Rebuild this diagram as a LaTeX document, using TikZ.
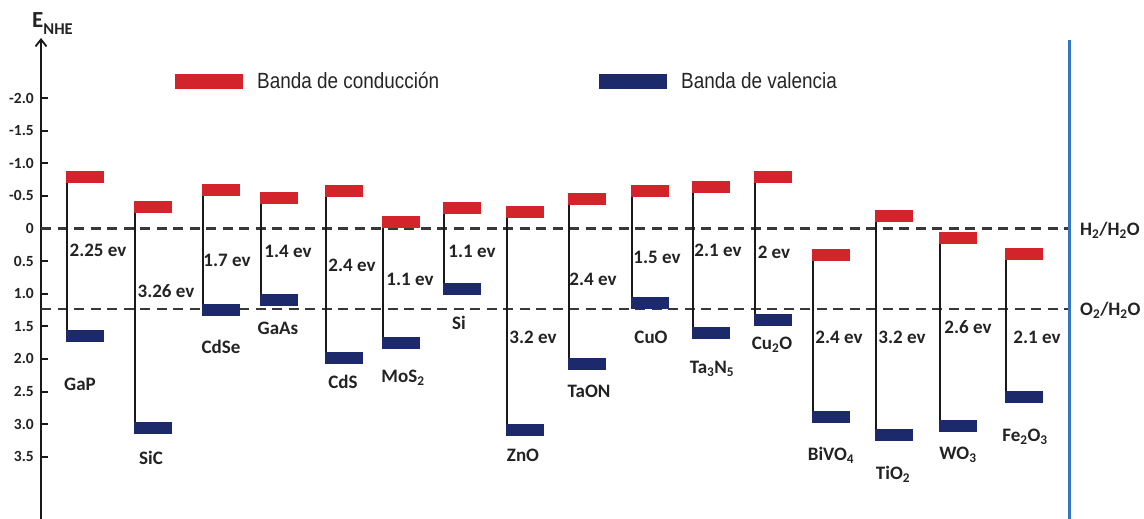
\documentclass[tikz,border=0pt]{standalone}
\usepackage{fontspec}
\setmainfont{Carlito}
\newfontfamily\legfont[FakeStretch=0.86]{Liberation Sans}
\usetikzlibrary{arrows.meta}
\definecolor{cbred}{RGB}{211,36,43}
\definecolor{vbblue}{RGB}{28,42,107}
\definecolor{lineblue}{RGB}{52,119,192}
\definecolor{txt}{RGB}{35,35,35}
\tikzset{
  cb/.style={fill=cbred, draw=none, minimum width=38pt, minimum height=12pt, inner sep=0pt, outer sep=0pt},
  vb/.style={fill=vbblue, draw=none, minimum width=38pt, minimum height=12pt, inner sep=0pt, outer sep=0pt},
  gapline/.style={line width=2pt, black!90},
  lab/.style={font=\fontsize{19}{19}\selectfont\bfseries, text=txt, inner sep=0pt},
  ticklab/.style={font=\fontsize{15.5}{15.5}\selectfont\bfseries, text=txt, anchor=east, inner sep=0pt},
  refline/.style={dash pattern=on 10pt off 6.5pt, line width=2.3pt, black!78},
  leg/.style={font=\legfont\fontsize{22}{22}\selectfont, text=black!85, anchor=west, inner sep=0pt},
  legbar/.style={draw=none, minimum width=68pt, minimum height=15pt, inner sep=0pt},
}
\newcommand\bandpair[8]{%
  \node[cb] (#1c) at (#2+19,#3+6) {};
  \node[vb] (#1v) at (#2+19,#4+6) {};
  \draw[gapline] ([xshift=1pt]#1c.south west) -- ([xshift=1pt]#1v.north west);
  \node[lab] (#1g) at (#6) {#5};
  \node[lab] (#1n) at (#8) {#7};
}
\begin{document}
\begin{tikzpicture}[x=1pt,y=-1pt]
\useasboundingbox (0,0) rectangle (1144,519);
\fill[white] (0,0) rectangle (1144,519);

% axis
\coordinate (axb) at (41,519);
\coordinate (axt) at (41,38);
\draw[line width=2pt, black!90, -{Straight Barb[length=7pt,width=11pt,line width=1.8pt]}] (axb) -- (axt);
\node[anchor=base west, inner sep=0pt, text=txt, font=\bfseries] (enhe) at (32,28)
  {{\fontsize{23}{23}\selectfont E}{\fontsize{16.5}{16.5}\selectfont\raisebox{-6.5pt}{NHE}}};

% ticks
\foreach \v/\t [count=\i] in {-2.0/-2.0,-1.5/-1.5,-1.0/-1.0,-0.5/-0.5,0/0,0.5/0.5,1.0/1.0,1.5/1.5,2.0/2.0,2.5/2.5,3.0/3.0,3.5/3.5}{
  \draw[line width=2pt, black!90] (41,228.5+\v*65.2) -- (48,228.5+\v*65.2);
  \node[ticklab] (tick\i) at (34,228.5+\v*65.2) {\t};
}

% blue right line
\coordinate (blt) at (1069,40);
\coordinate (blb) at (1069,519);
\draw[line width=3pt, lineblue] (blt) -- (blb);

% reference lines
\coordinate (h2l) at (41,228.5);
\coordinate (h2r) at (1068,228.5);
\coordinate (o2l) at (41,309);
\coordinate (o2r) at (1068,309);
\draw[refline] (h2l) -- (h2r);
\draw[refline] (o2l) -- (o2r);
\node[lab, anchor=west] (h2lab) at (1080,230) {H\textsubscript{2}/H\textsubscript{2}O};
\node[lab, anchor=west] (o2lab) at (1080,310) {O\textsubscript{2}/H\textsubscript{2}O};

% legend
\node[legbar, fill=cbred] (legr) at (209,81.5) {};
\node[leg] (legrt) at (257,81) {Banda de conducción};
\node[legbar, fill=vbblue] (legb) at (633,81.5) {};
\node[leg] (legbt) at (681,81) {Banda de valencia};

% band pairs
\bandpair{gap}{66}{171}{330}{2.25 ev}{98,250}{GaP}{80,384}
\bandpair{sic}{134}{201}{422}{3.26 ev}{166,291}{SiC}{151,458}
\bandpair{cdse}{202}{184}{304}{1.7 ev}{227,260}{CdSe}{221,347}
\bandpair{gaas}{260}{192}{294}{1.4 ev}{288,251}{GaAs}{278,328}
\bandpair{cds}{325}{185}{352}{2.4 ev}{352,265}{CdS}{343,382}
\bandpair{mos}{382}{216}{337}{1.1 ev}{410,279}{MoS\textsubscript{2}}{403,378}
\bandpair{si}{443}{202}{283}{1.1 ev}{472,251}{Si}{459,323}
\bandpair{zno}{506}{206}{424}{3.2 ev}{533,337}{ZnO}{523,455}
\bandpair{taon}{568}{193}{358}{2.4 ev}{593,279}{TaON}{589,391}
\bandpair{cuo}{631}{185}{297}{1.5 ev}{657,257}{CuO}{651,337}
\bandpair{tan}{692}{181}{327}{2.1 ev}{718,250}{Ta\textsubscript{3}N\textsubscript{5}}{712,369}
\bandpair{cuto}{754}{171}{314}{2 ev}{774,252}{Cu\textsubscript{2}O}{772,345}
\bandpair{bivo}{812}{249}{411}{2.4 ev}{839,337}{BiVO\textsubscript{4}}{831,455}
\bandpair{tio}{875}{210}{429}{3.2 ev}{902,337}{TiO\textsubscript{2}}{893,474}
\bandpair{wo}{939}{232}{420}{2.6 ev}{968,327}{WO\textsubscript{3}}{958,455}
\bandpair{feo}{1005}{248}{391}{2.1 ev}{1037,337}{Fe\textsubscript{2}O\textsubscript{3}}{1025,437}
\end{tikzpicture}
\end{document}
